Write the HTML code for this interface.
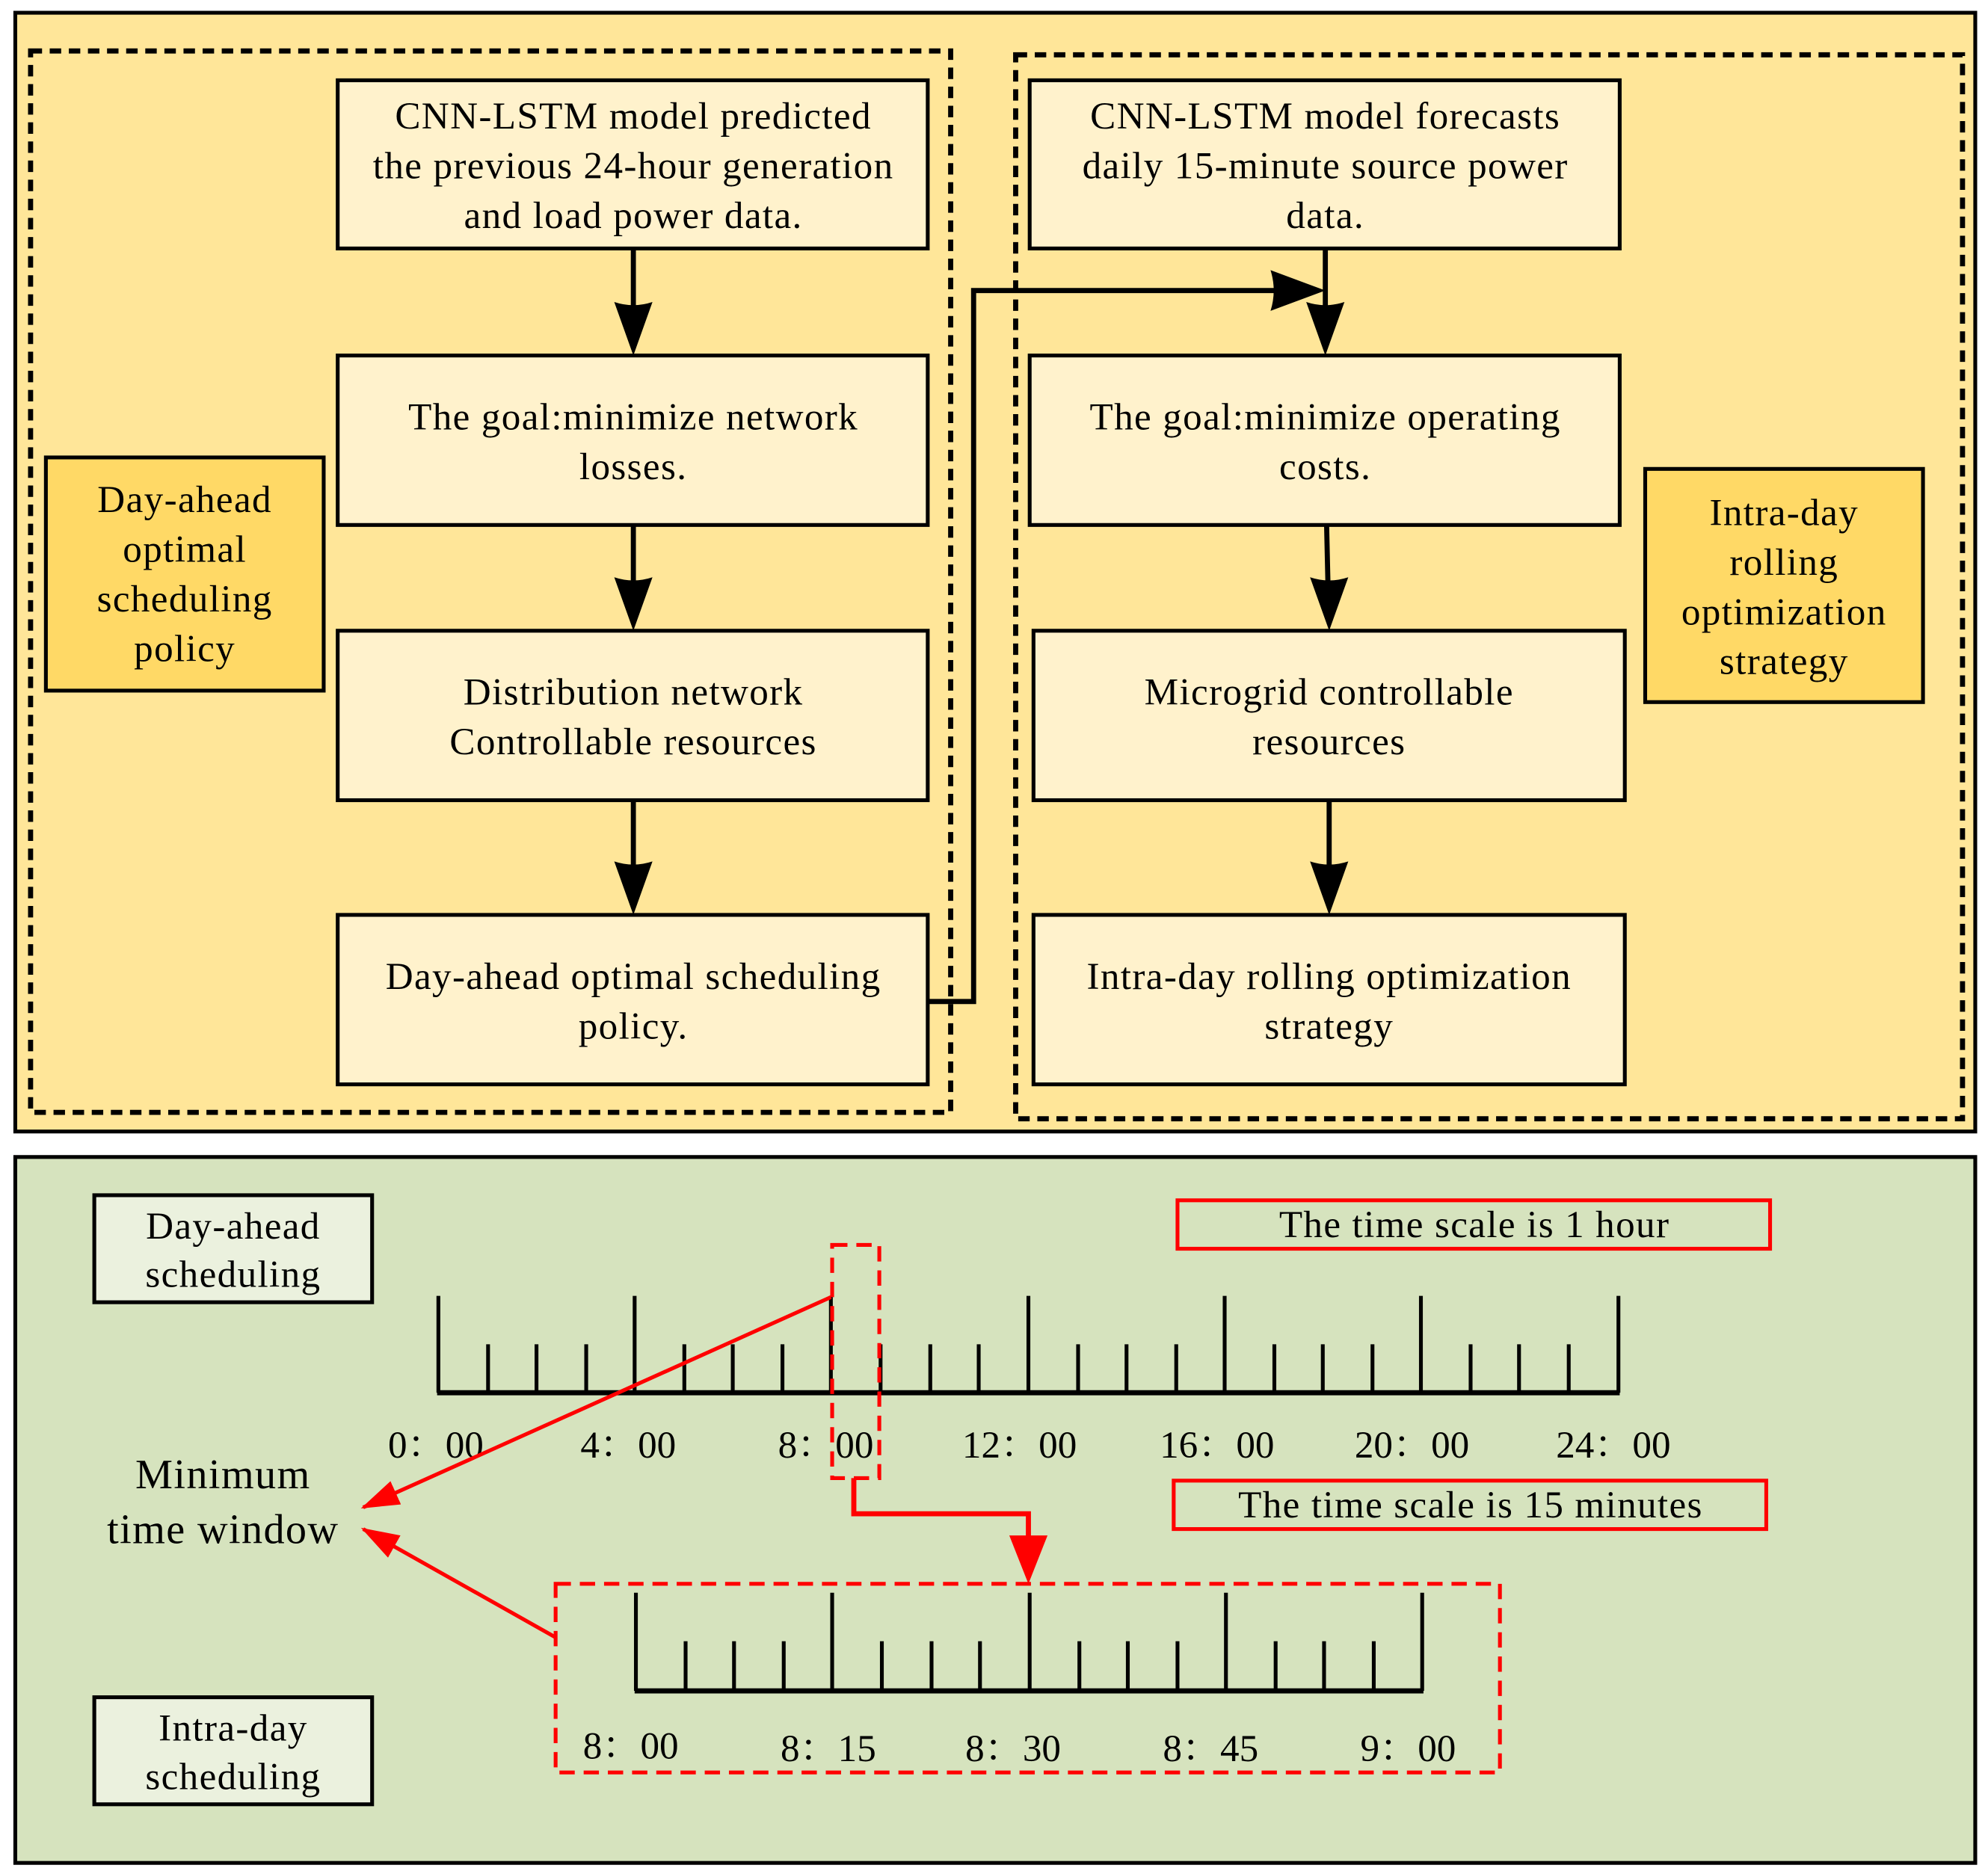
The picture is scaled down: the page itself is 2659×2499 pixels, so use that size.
<!DOCTYPE html>
<html><head><meta charset="utf-8"><style>html,body{margin:0;padding:0;background:#fff}svg{display:block}</style></head>
<body>
<svg width="2659" height="2499" viewBox="0 0 1560 1466" preserveAspectRatio="none" xmlns="http://www.w3.org/2000/svg">
<defs>
<marker id="ab" viewBox="0 0 30 44" refX="42" refY="15" markerWidth="44" markerHeight="30" markerUnits="userSpaceOnUse" orient="auto">
<path d="M0,0 L44,15 L0,30 Q10,15 0,0 Z" fill="#000"/></marker>
<marker id="ar" viewBox="0 0 30 20" refX="28" refY="10" markerWidth="30" markerHeight="20" markerUnits="userSpaceOnUse" orient="auto">
<path d="M0,0 L30,10 L0,20 Z" fill="#f00"/></marker>
</defs>
<g font-family="'Liberation Serif','Noto Serif CJK SC',serif" font-size="30" text-anchor="middle" letter-spacing="0.8">
<!-- top panel -->
<rect x="12" y="10" width="1538" height="878" fill="#FFE699" stroke="#000" stroke-width="3"/>
<rect x="24" y="40" width="722" height="833" fill="none" stroke="#000" stroke-width="4" stroke-dasharray="9,6"/>
<rect x="797" y="43" width="743" height="835" fill="none" stroke="#000" stroke-width="4" stroke-dasharray="9,6"/>
<g fill="#FFF2CC" stroke="#000" stroke-width="3">
<rect x="265" y="63" width="463" height="132"/>
<rect x="265" y="279" width="463" height="133"/>
<rect x="265" y="495" width="463" height="133"/>
<rect x="265" y="718" width="463" height="133"/>
<rect x="808" y="63" width="463" height="132"/>
<rect x="808" y="279" width="463" height="133"/>
<rect x="811" y="495" width="464" height="133"/>
<rect x="811" y="718" width="464" height="133"/>
</g>
<rect x="36" y="359" width="218" height="183" fill="#FFD966" stroke="#000" stroke-width="3"/>
<rect x="1291" y="368" width="218" height="183" fill="#FFD966" stroke="#000" stroke-width="3"/>
<g stroke="#000" stroke-width="4" fill="none">
<path d="M497,195V240 M497,412V456 M497,628V680 M1040,195V240 M1041,412L1042,456 M1043,628V680 M728,786H764V228H1000"/>
</g>
<g fill="#000">
<path d="M482,237 Q497,242 512,237 L497,279 Z"/>
<path d="M482,453 Q497,458 512,453 L497,495 Z"/>
<path d="M482,676 Q497,681 512,676 L497,718 Z"/>
<path d="M1025,237 Q1040,242 1055,237 L1040,279 Z"/>
<path d="M1028,453 Q1043,458 1058,453 L1043,495 Z"/>
<path d="M1028,676 Q1043,681 1058,676 L1043,718 Z"/>
<path d="M997,212 Q1002,228 997,244 L1040,228 Z"/>
</g>
<text x="497" y="101">CNN-LSTM model predicted</text>
<text x="497" y="140">the previous 24-hour generation</text>
<text x="497" y="179">and load power data.</text>
<text x="497" y="337">The goal:minimize network</text>
<text x="497" y="376">losses.</text>
<text x="497" y="553">Distribution network</text>
<text x="497" y="592">Controllable resources</text>
<text x="497" y="776">Day-ahead optimal scheduling</text>
<text x="497" y="815">policy.</text>
<text x="1040" y="101">CNN-LSTM model forecasts</text>
<text x="1040" y="140">daily 15-minute source power</text>
<text x="1040" y="179">data.</text>
<text x="1040" y="337">The goal:minimize operating</text>
<text x="1040" y="376">costs.</text>
<text x="1043" y="553">Microgrid controllable</text>
<text x="1043" y="592">resources</text>
<text x="1043" y="776">Intra-day rolling optimization</text>
<text x="1043" y="815">strategy</text>
<text x="145" y="402">Day-ahead</text>
<text x="145" y="441">optimal</text>
<text x="145" y="480">scheduling</text>
<text x="145" y="519">policy</text>
<text x="1400" y="412">Intra-day</text>
<text x="1400" y="451">rolling</text>
<text x="1400" y="490">optimization</text>
<text x="1400" y="529">strategy</text>
<!-- bottom panel -->
<rect x="12" y="908" width="1538" height="554" fill="#D6E3BE" stroke="#000" stroke-width="3"/>
<rect x="74" y="938" width="218" height="84" fill="#EBF1DE" stroke="#000" stroke-width="3"/>
<rect x="74" y="1332" width="218" height="84" fill="#EBF1DE" stroke="#000" stroke-width="3"/>
<text x="183" y="972">Day-ahead</text>
<text x="183" y="1010">scheduling</text>
<text x="183" y="1366">Intra-day</text>
<text x="183" y="1404">scheduling</text>
<rect x="924" y="942" width="465" height="38" fill="none" stroke="#f00" stroke-width="3"/>
<rect x="921" y="1162" width="465" height="38" fill="none" stroke="#f00" stroke-width="3"/>
<text x="1157" y="971">The time scale is 1 hour</text>
<text x="1154" y="1191">The time scale is 15 minutes</text>
<text x="175" y="1168" font-size="33">Minimum</text>
<text x="175" y="1211" font-size="33">time window</text>
<!-- timeline 1 -->
<g stroke="#000" stroke-width="3">
<line x1="343" y1="1093" x2="1271" y2="1093" stroke-width="4"/>
<path d="M344,1017V1093 M498,1017V1093 M652,1017V1093 M807,1017V1093 M961,1017V1093 M1115,1017V1093 M1270,1017V1093
M383,1055V1093 M421,1055V1093 M460,1055V1093 M537,1055V1093 M575,1055V1093 M614,1055V1093 M691,1055V1093 M730,1055V1093 M768,1055V1093
M846,1055V1093 M884,1055V1093 M923,1055V1093 M1000,1055V1093 M1038,1055V1093 M1077,1055V1093 M1154,1055V1093 M1192,1055V1093 M1231,1055V1093"/>
</g>
<g font-size="30" letter-spacing="0">
<text x="342" y="1144">0：00</text><text x="493" y="1144">4：00</text><text x="648" y="1144">8：00</text>
<text x="800" y="1144">12：00</text><text x="955" y="1144">16：00</text><text x="1108" y="1144">20：00</text><text x="1266" y="1144">24：00</text>
</g>
<!-- timeline 2 -->
<g stroke="#000" stroke-width="3">
<line x1="498" y1="1327" x2="1117" y2="1327" stroke-width="4"/>
<path d="M499,1250V1327 M653,1250V1327 M808,1250V1327 M962,1250V1327 M1116,1250V1327
M538,1288V1327 M576,1288V1327 M615,1288V1327 M692,1288V1327 M731,1288V1327 M769,1288V1327 M847,1288V1327 M885,1288V1327 M924,1288V1327 M1001,1288V1327 M1039,1288V1327 M1078,1288V1327"/>
</g>
<g font-size="30" letter-spacing="0">
<text x="495" y="1380">8：00</text><text x="650" y="1382">8：15</text><text x="795" y="1382">8：30</text>
<text x="950" y="1382">8：45</text><text x="1105" y="1382">9：00</text>
</g>
<!-- red -->
<rect x="436" y="1243" width="741" height="148" fill="none" stroke="#f00" stroke-width="3" stroke-dasharray="12,7"/>
<rect x="653" y="977" width="37" height="183" fill="none" stroke="#f00" stroke-width="3" stroke-dasharray="12,7"/>
<polyline points="670,1160 670,1188 807,1188 807,1206" fill="none" stroke="#f00" stroke-width="4"/>
<path d="M792,1205 L822,1205 L807,1243 Z" fill="#f00"/>
<line x1="652" y1="1018" x2="285" y2="1183" stroke="#f00" stroke-width="3" marker-end="url(#ar)"/>
<line x1="436" y1="1285" x2="285" y2="1200" stroke="#f00" stroke-width="3" marker-end="url(#ar)"/>
</g>
</svg>
</body></html>
